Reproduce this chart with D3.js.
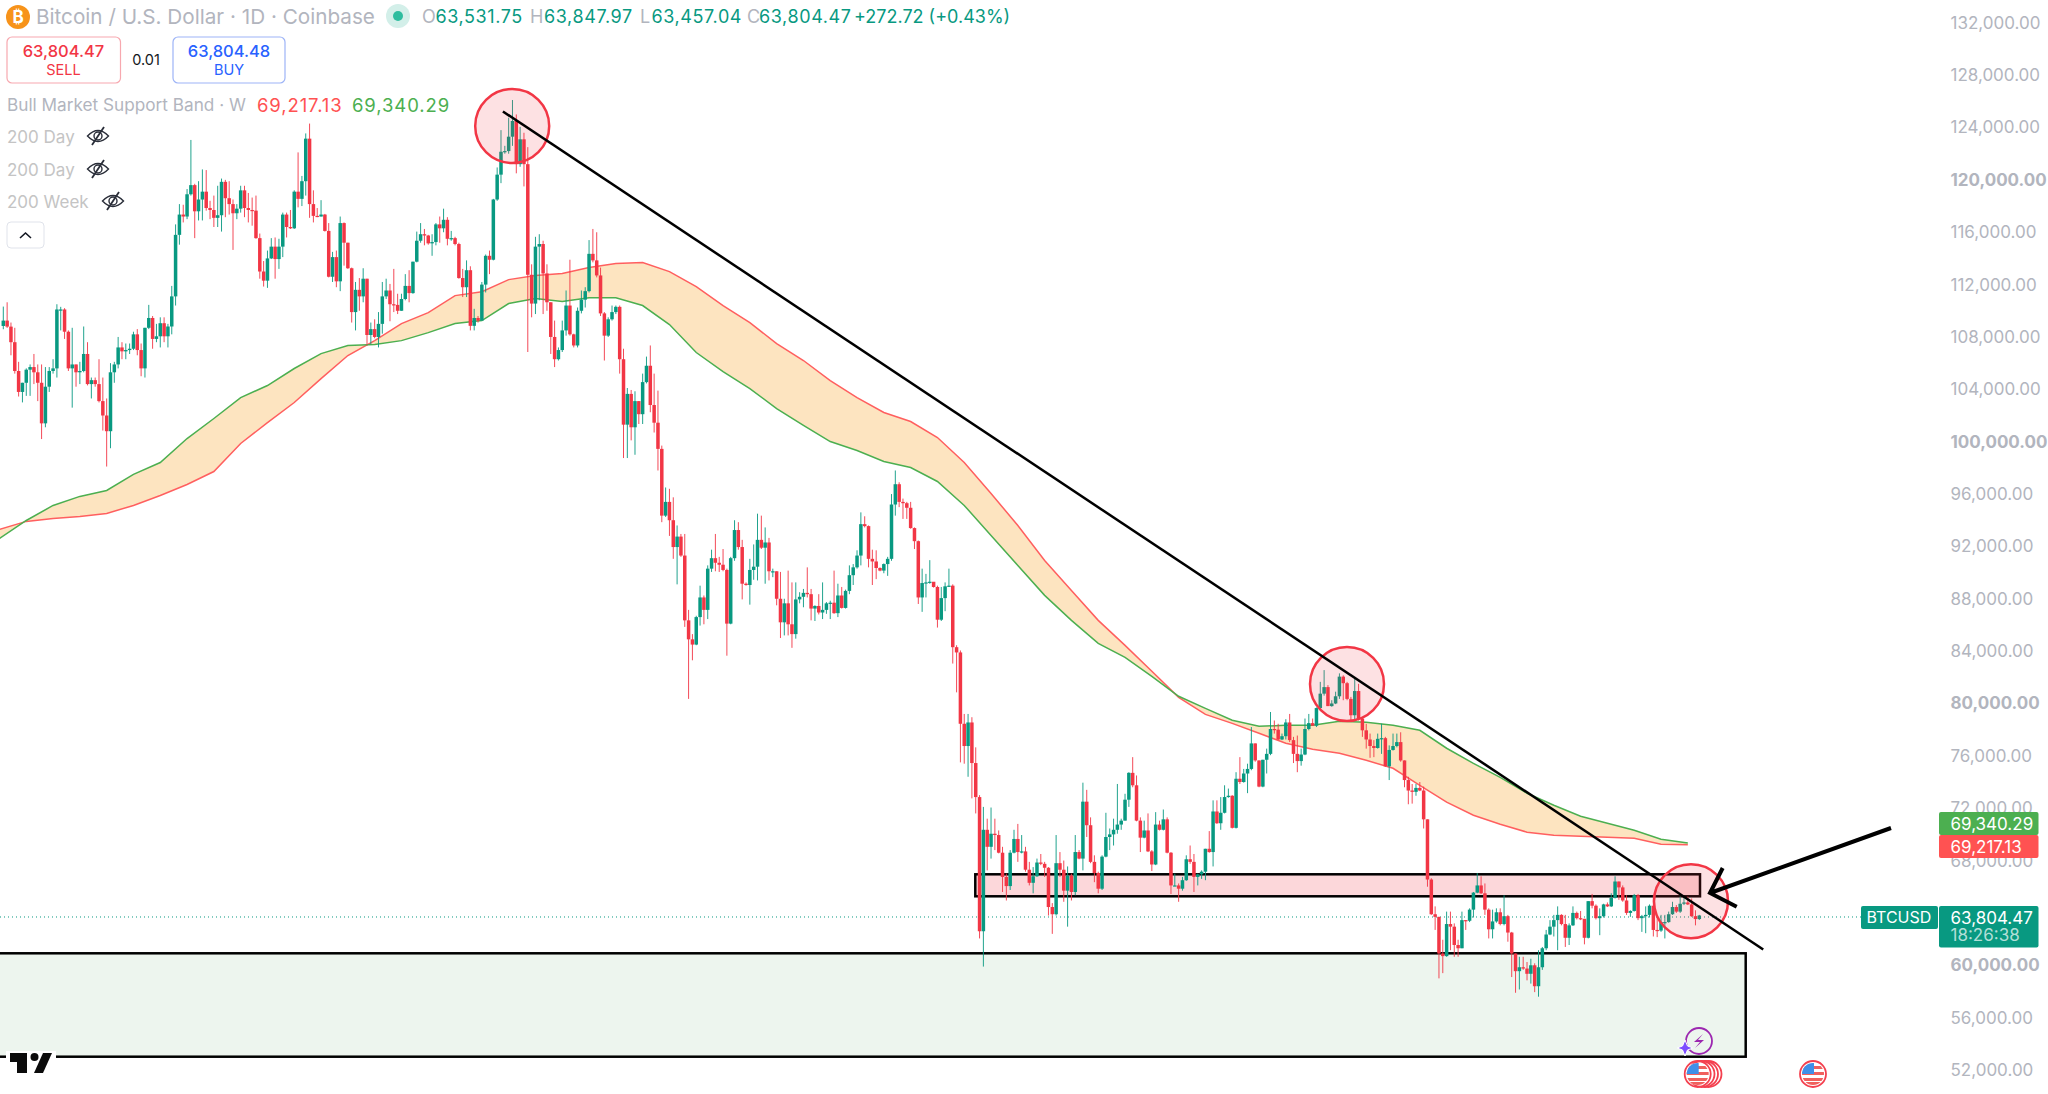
<!DOCTYPE html>
<html>
<head>
<meta charset="utf-8">
<script src="https://cdn.jsdelivr.net/npm/d3@7/dist/d3.min.js"></script>
<style>
html, body { margin: 0; padding: 0; background: #fff; }
svg { display: block; }
text { font-family: Inter, "Noto Sans", sans-serif; }
</style>
</head>
<body>
<svg id="chart" width="2048" height="1094"></svg>
<script>
// all prices in thousands of USD
const firstOpen = 108.84;

const closes = [
109.25,108.79,107.6,105.4,103.8,104.5,105.5,105.7,105.3,104.5,
101.4,104.2,105.4,105.6,110.1,110.1,108.4,105.6,105.9,105.3,
105.4,106.7,104.4,104.7,104.4,103.1,102,100.8,105.3,105.9,
107.2,106.9,107,107.1,108.2,107,105.6,108.7,109.45,107.85,
108.05,109.05,108.05,108.8,111.1,115.8,117.35,117.2,118.9,119.6,
117.6,118.5,119.1,117.85,117.7,117.1,117.3,119.85,118.6,118.15,
117.45,117.8,119.2,117.85,117.7,117.65,115.55,113,112.3,114,
114.9,113.95,114.9,117.35,116.4,116.3,119.1,118.55,119.9,123.15,
118.15,117.25,117.2,117.35,116.1,112.6,114.1,112.25,116.7,115.2,
113.25,109.9,111.6,111.1,112.45,108.15,108.6,108,109,111.1,
111.55,110.5,110.45,110,110.9,111.9,111.35,113.75,115.35,115.85,
115.75,115.15,115.25,116.6,116.3,116.95,115.5,115.55,115.1,112.5,
111.8,113.1,108.85,109.45,109.25,112,114.2,113.9,118.5,120.4,
122.15,122.2,123.3,124.5,121.2,123.1,121.2,112.75,110.55,114.9,
115.1,112.85,110.65,108,106.3,107,108.5,110.4,108.2,107.35,
110,110.85,111.5,114.35,113.85,112.7,109.8,108.1,109.35,109.9,
110.3,106.3,101.3,103.65,101.1,103.1,102.1,104.55,105.8,102.8,
101.45,99.45,94.35,95.4,94,91.95,92.75,91.3,86.35,84.9,
84.5,86.6,88.1,87.15,90.3,91.1,90.75,90.6,90.2,86.1,
91.1,93.25,91.95,89.15,89.05,90.2,90.45,92.5,91.9,92.3,
90.1,90.1,88,86.2,87.65,86.05,85.3,87.95,88.15,88.45,
88.35,87.25,87.45,86.95,87.15,87.65,87.7,86.9,88.25,87.3,
88.6,89.8,90.4,91.3,93.7,93.55,91.05,90.85,90.35,90.15,
90.65,91.05,95.2,96.75,95.4,95.3,94.95,93.4,92.4,88.1,
89.2,89.25,89.3,88.9,86.4,88.05,88.95,89,84.3,83.9,
78.45,76.75,78.55,75.45,72.85,62.6,70.35,69.05,70.05,69.95,
68.6,66.75,66.05,68.6,69.65,68.65,68.7,67.3,66.3,66.8,
67.85,67.75,67.45,64.45,63.9,67.8,67.3,65.7,66.85,65.6,
68.65,68.15,72.5,70.7,67.9,67.05,65.85,68.3,69.8,70,
70.35,70.75,71.05,72.65,74.7,73.75,71.05,69.75,70.3,68.7,
67.7,70.75,70.35,71.15,68.6,66.1,66.1,65.85,66.5,68.1,
67.9,66.75,66.95,67.15,68.9,68.65,71.75,70.85,71.65,72.85,
72.95,70.5,74.25,74,74.65,75,76.95,75.65,73.65,75.7,
76.15,78.05,78,77.25,77.5,78.55,77.2,76.15,75.6,76.1,
78.05,78.5,78.3,79.65,80.75,81.25,79.8,80,80.55,82.05,
81.55,80.35,79.1,80.95,78.85,77.95,77.25,76.75,76.6,77.3,
77.35,75.2,76.45,76.75,77.05,75.65,74.15,73.35,73.25,73.55,
73.35,71.15,66.55,63.9,63.7,60.9,60.7,63.15,62.95,61.55,
61.3,63.45,63.4,64.25,65.55,66.1,65.5,64.25,62.75,63.35,
64.05,63.15,63.75,62.5,60.9,59.55,59.85,59.75,59.35,60,
58.4,59.85,61.3,62.35,62.95,63.45,63.85,63.15,62.1,63.05,
64,63.6,63.55,62.1,64.9,64.55,63.6,63.75,64.65,64.5,
65.15,66.4,65.95,64.95,64,64.15,65.35,63.6,63.75,63.85,
64.55,62.7,62.65,63.3,63.3,63.9,64.45,64.1,64.7,64.8,
64.65,63.75,63.53,63.804
];

const highs = [
110.32,110.65,109.1,108.7,106.1,104.5,105.6,105.9,106.7,105.9,
105.9,105.7,105.7,106.3,110.5,110.3,110.2,108.5,108.7,105.9,
106.1,108.8,107.6,104.9,104.9,106.3,104.9,103.3,106,106.1,
108,107.6,107.5,107.5,108.4,108.6,107.5,108.7,110.45,109.6,
109,109.5,109.5,109,111.9,116.6,118.15,118.1,119.3,123.05,
119.7,119.9,120.8,120.75,118.4,118.8,119.55,120.1,120,119.9,
118.5,118.15,119.55,119.55,119,118.65,118.8,115.9,113.8,114.6,
115.55,115.6,115.5,117.5,117.5,117.7,119.2,122.1,120.3,123.55,
124.3,119.2,117.85,118.45,117.4,116.7,114.5,114.6,117.2,116.75,
115.2,113.3,112.2,112.5,113.25,112.45,109.1,109.35,109.9,112.2,
112.45,112.05,113.2,111.3,111.3,112.8,113.1,113.75,116.05,116.7,
116.25,115.8,115.85,116.7,117.2,117.8,117.15,116.1,115.65,115.2,
113.2,113.85,113.4,110.15,109.6,112.2,114.3,114.6,118.55,120.95,
123.8,122.6,124.75,126.1,125,124.05,123.6,122.5,113.55,115.65,
115.85,115.35,113.55,110.65,109.25,107.2,109.25,111.55,113.9,108.25,
110.25,111.55,111.8,115.4,116.25,116,113.3,109.9,109.5,110.4,
110.4,110.4,107.1,104.1,103.95,103.85,103.1,105.2,106.5,107.35,
105.2,103.9,99.7,96.5,96.4,95.75,93.6,92.95,92.95,87.15,
85.3,86.7,89,88.25,90.55,91.75,92.95,91.2,91.8,90.3,
91.2,94,93.85,92.5,89.25,91.05,92.15,94.5,94.35,93.45,
92.65,90.3,90.1,90.05,88,90.15,89.25,89.25,88.5,88.75,
90.4,88.75,87.5,88.35,89.25,87.75,87.85,90.15,89.15,88.9,
88.7,90.55,90.65,91.7,94.6,94.3,93.6,91.75,91.7,90.4,
90.7,91.2,96,97.8,96.9,95.65,95.4,95.4,93.45,92.45,
90.3,89.9,90.95,89.25,89,88.9,89.25,90.3,89.1,84.45,
84.05,79.2,79.2,78.95,76.65,73,72.1,71.2,72.05,71.2,
70.3,69.05,67,68.8,70.35,70.8,69.95,69.05,67.9,67.5,
68.15,68.5,67.9,67.5,64.75,69.95,68.65,68,67.55,67,
69.95,68.8,73.95,73.4,71.3,68.4,67.15,68.4,71.65,70.45,
71.2,73.85,71.2,73.1,74.75,75.9,74.5,71.3,71.05,71.6,
68.8,71.7,71.05,71.9,71.3,68.65,67,66.25,66.75,68.4,
69.15,68.5,67,67.25,68.9,70.25,72.6,72.6,72.85,73.75,
73.5,73,74.75,75.9,75,75.4,78.2,76.95,75.65,75.7,
76.55,79.35,78.7,78.45,77.7,78.8,79.2,77.45,77.55,76.55,
78.85,79.2,78.85,79.7,81.65,82.55,81.4,80.25,80.9,82.3,
82.15,81.65,80.5,81.9,81.5,78.9,78.45,77.7,77.2,77.7,
78.45,77.45,76.8,77.7,77.7,77.8,75.65,74.4,73.85,73.85,
74,73.65,71.15,66.65,64.5,63.7,61.95,64.1,64.1,63.2,
61.95,64.1,63.45,64.35,65.6,67.05,66.8,66.25,64.35,64.25,
64.35,64.35,65.35,63.85,62.55,60.9,60.65,60.65,60.25,60.5,
60.15,61.15,61.4,62.7,63.45,63.85,64.5,63.9,63.85,63.2,
64.5,64.1,64.15,63.55,64.9,65.45,64.65,64.35,64.7,64.8,
65.5,66.8,66.4,66.1,65.35,64.2,65.45,65.45,63.85,64.5,
64.65,65.35,63.85,63.85,63.85,64.1,64.85,64.6,65.25,65.25,
65.25,65.1,64.2,63.85
];

const lows = [
108.59,108.69,106.6,105.2,103.45,103,103.5,103.5,104.4,103.1,
100.2,101.1,103.8,105.2,104.9,108.5,107.85,105.4,102.6,104.2,
104.4,105.3,104.3,103.3,104.2,103,100.85,98.1,99.5,104.5,
105.6,106.3,106.3,106.7,107,106.6,105,104.9,108.6,107.1,
107.6,107.2,107.6,107.2,108.2,110.4,115.05,116.75,117,118.8,
115.55,116.9,116.9,117.65,117,116.4,116.4,116.05,117.15,117.35,
114.65,117,117.5,117.15,116.75,116.5,115.5,112.45,111.85,111.75,
113.95,112.45,113.2,114.1,115.6,116.25,116.25,117.9,118,118.8,
117.1,116.75,117.15,117.2,116.05,112.55,112.2,111.8,111.5,113.45,
113.2,109.1,108.5,110,110.65,107.35,107.45,107.9,107.2,108.25,
110.9,109.2,109.9,109.75,110,110.8,110.65,111.3,113.7,115.2,
115,115.05,114.2,115,115.2,116,115,115.35,115,112.45,
111.05,111.05,108.5,108.5,109.1,109.4,111.4,112.8,113.85,118.4,
119.75,122,122,122.6,120.5,121,119.5,106.85,109.5,109.75,
110.8,109.75,110,106.7,105.7,106.2,106.85,108.1,108.1,107.2,
107.2,109.8,110.25,111.4,113.7,112.55,109.6,106.2,108,109.25,
109.75,105.2,98.75,98.75,100.1,99,101.35,101.35,104.45,102.25,
100.7,97.8,93.85,94.25,92.8,91.05,89.1,91.2,85.85,80.35,
83.3,84.45,85.95,86.05,86.45,90.05,90.1,90.05,90.1,83.65,
86.05,90.9,91.75,87.95,89,87.55,89.45,89.4,91.8,89.15,
89.4,89.65,87.5,85,85.2,85.2,84.25,84.95,87.65,87.35,
88.1,86.35,86.3,86.8,86.45,86.85,86.45,86.85,86.6,87.25,
87.25,88.35,89.05,90.3,90.55,93.45,90.4,89.05,89.5,90.1,
89.95,89.75,90.9,94.35,95,94.1,94.1,93.35,91.8,87.6,
87,88.1,89.15,88.85,85.8,86.3,87.05,88.9,83.05,80.85,
75.5,75.4,74.4,72.75,71.6,62.05,59.9,67.25,68.15,68.8,
68.55,65.6,64.95,65.75,68.55,67.9,68.55,67.15,66.1,65.5,
66.75,67.65,66.75,63.8,62.4,63.8,66.75,64.85,62.95,64.95,
65.35,68.1,67.25,69.8,67.8,66.35,65.5,65.75,68.25,68.8,
69.15,70.05,70.35,71.05,72.1,73.6,71,68.65,69.7,68.65,
67.2,67.65,70.3,70.3,68.55,65.45,66.05,64.85,65.7,66.45,
67.75,65.6,66.1,66.6,66.5,68.6,67.55,70.8,70.35,71.6,
72.8,70.45,70.45,73.85,73.95,73.15,74.9,75.55,73.6,73.6,
74.65,76.05,77.7,77.2,77.2,77.25,77.05,75.45,74.75,75.25,
76.05,77.95,78.3,78.2,79.6,80.6,79.8,79.75,79.95,80.35,
80.25,80.25,78.7,78.7,78.7,77.45,76.55,75.85,75.9,76.55,
76.15,75.15,74.15,76.4,76.65,75.55,73.6,72.3,72.35,72.95,
73.3,70.45,66,63.85,62.7,59,59.4,60.65,61.15,60.65,
60.65,61.3,62.7,63.3,63.65,65.5,65.45,63.85,62.05,62.05,
63.25,63.05,63.05,61.8,59.1,57.9,58.15,59.65,58.85,58.6,
57.95,57.6,59.65,61.15,62.3,62.2,61.15,63.05,61.4,61.55,
63,63.5,63.45,61.6,62.05,64.35,63.5,62.3,63.65,64.45,
64.45,65.1,65,64.85,63.85,63.7,64.1,63.45,62.55,62.45,
63.65,62.2,62.15,62.55,62.05,63.25,63.85,64,64,64.6,
64.6,63.7,63.05,63.46
];

// bull market support band, one point per week (first point is one bar left of the view)
const bandRed = [
93.3,93.91,94.14,94.29,94.52,95.13,95.89,96.73,97.72,99.86,
101.46,102.99,104.82,106.58,107.72,109.02,109.86,111.16,111.46,112.38,
112.69,112.84,113.3,113.61,113.68,112.99,111.85,110.4,109.1,107.49,
106.2,104.67,103.37,102.23,101.54,100.32,98.41,96.04,93.6,90.93,
88.64,86.35,84.44,82.46,80.47,79.17,78.48,77.72,76.96,76.5,
76.2,75.66,75.05,73.75,72.46,71.46,70.78,70.17,69.94,69.86,
69.78,69.71,69.25,69.21713
];
const bandGreen = [
92.61,93.98,95.13,95.82,96.27,97.5,98.41,100.24,101.77,103.37,
104.29,105.59,106.73,107.34,107.42,107.72,108.33,109.02,109.25,110.55,
110.93,110.7,111,111,110.4,108.95,106.81,105.36,104.06,102.53,
101.24,100.01,99.33,98.49,98.03,96.96,95.13,92.84,90.55,88.26,
86.35,84.59,83.52,82.07,80.55,79.63,78.72,78.26,78.33,78.33,
78.64,78.56,78.33,77.95,76.58,75.43,74.36,73.14,72.23,71.39,
70.85,70.32,69.63,69.34029
];
const bandStart = -1;
const bandStep = 7;

// 64,000 sits fully behind the last price box in the picture
const priceTicks = [52,56,60,68,72,76,80,84,88,92,96,100,104,108,112,116,120,124,128,132];
const boldTicks = [60,80,100,120];

const trendBars = [130.5, 459.7];
const trendPrices = [125.23, 61.21];

const RED = '#f23645';
const GREEN = '#089981';
const GREY = '#b2b5be';

const svg = d3.select('#chart');
const n = closes.length;
const x = d3.scaleLinear().domain([0, n - 1]).range([3.3, 1699.3]);
const y = d3.scaleLinear().domain([52, 132]).range([1070, 22.8]);
const opens = closes.map((c, i) => i === 0 ? firstOpen : closes[i - 1]);
const money = d3.format(',.2f');

const chart = svg.append('g');

// zones sit under the candles
chart.append('rect')
    .attr('x', -4).attr('y', 953.3).attr('width', 1749.7).attr('height', 103.4)
    .attr('fill', '#edf5ee').attr('stroke', '#000').attr('stroke-width', 2.5);
chart.append('rect')
    .attr('x', 975.3).attr('y', 874.3).attr('width', 724.7).attr('height', 22)
    .attr('fill', 'rgba(242,54,69,0.2)').attr('stroke', '#000').attr('stroke-width', 2.5);

// band
const bandX = i => x(bandStart + i * bandStep);
const area = d3.area()
    .x((d, i) => bandX(i))
    .y0((d, i) => y(bandRed[i]))
    .y1((d, i) => y(bandGreen[i]));
const bandLine = d3.line().x((d, i) => bandX(i)).y(d => y(d));

chart.append('path').datum(bandRed).attr('d', area).attr('fill', '#fde4c0');
chart.append('path').datum(bandRed).attr('d', bandLine)
    .attr('fill', 'none').attr('stroke', '#ff5f5f').attr('stroke-width', 1.5);
chart.append('path').datum(bandGreen).attr('d', bandLine)
    .attr('fill', 'none').attr('stroke', '#4caf50').attr('stroke-width', 1.5);

// last price line
chart.append('line')
    .attr('x1', 0).attr('x2', 1861)
    .attr('y1', y(closes[n - 1]) + 1.5).attr('y2', y(closes[n - 1]) + 1.5)
    .attr('stroke', GREEN).attr('stroke-width', 1).attr('stroke-dasharray', '1 3');

// candles
const candles = chart.selectAll('.candle').data(closes).join('g').attr('class', 'candle');
const colour = i => closes[i] >= opens[i] ? GREEN : RED;
candles.append('line')
    .attr('x1', (d, i) => x(i)).attr('x2', (d, i) => x(i))
    .attr('y1', (d, i) => y(highs[i])).attr('y2', (d, i) => y(lows[i]))
    .attr('stroke', (d, i) => colour(i)).attr('stroke-width', 0.9);
candles.append('rect')
    .attr('x', (d, i) => x(i) - 1.75).attr('width', 3.5)
    .attr('y', (d, i) => y(Math.max(opens[i], closes[i])))
    .attr('height', (d, i) => Math.max(1.2, Math.abs(y(opens[i]) - y(closes[i]))))
    .attr('fill', (d, i) => colour(i));

// circles around the three touches
[[512.2, 126], [1347, 684], [1691, 901.3]].forEach(c => {
    chart.append('circle')
        .attr('cx', c[0]).attr('cy', c[1]).attr('r', 37)
        .attr('fill', 'rgba(242,54,69,0.15)').attr('stroke', RED).attr('stroke-width', 2.5);
});

// trend line
chart.append('line')
    .attr('x1', x(trendBars[0])).attr('y1', y(trendPrices[0]))
    .attr('x2', x(trendBars[1])).attr('y2', y(trendPrices[1]))
    .attr('stroke', '#000').attr('stroke-width', 2.5);

// arrow
chart.append('path')
    .attr('d', 'M1891,828 L1710,893 M1722.7,868 L1710,893 L1736.7,906.7')
    .attr('fill', 'none').attr('stroke', '#000').attr('stroke-width', 4)
    .attr('stroke-linejoin', 'miter');

// price axis
const axis = svg.append('g')
    .attr('transform', 'translate(1950.5,0)')
    .call(d3.axisRight(y)
        .tickValues(priceTicks)
        .tickSize(0)
        .tickPadding(0)
        .tickFormat(d => money(d * 1000)));
axis.select('.domain').remove();
axis.selectAll('text')
    .attr('fill', GREY)
    .attr('font-size', 17)
    .attr('font-family', 'Inter, sans-serif')
    .attr('font-weight', d => boldTicks.includes(d) ? 700 : 400);

function priceBox(bx, by, w, h, fill) {
    svg.append('rect').attr('x', bx).attr('y', by).attr('width', w).attr('height', h)
        .attr('rx', 2).attr('fill', fill);
}
function label(tx, ty, str, size, fill, opts) {
    const t = svg.append('text').attr('x', tx).attr('y', ty).attr('dy', '0.36em')
        .attr('font-size', size).attr('fill', fill).text(str);
    if (opts && opts.anchor) t.attr('text-anchor', opts.anchor);
    if (opts && opts.weight) t.attr('font-weight', opts.weight);
    if (opts && opts.spacing) t.attr('letter-spacing', opts.spacing);
    return t;
}

priceBox(1939, 812, 99.5, 23, '#4caf50');
priceBox(1939, 835, 99.5, 23, '#ff5252');
label(1950.5, 823.5, money(bandGreen[bandGreen.length - 1] * 1000), 17, '#fff');
label(1950.5, 846.5, money(bandRed[bandRed.length - 1] * 1000), 17, '#fff');
priceBox(1861, 906, 77, 23, GREEN);
priceBox(1939, 906, 99.5, 41.5, GREEN);
label(1866.5, 917.5, 'BTCUSD', 16, '#fff');
label(1950.5, 917.5, '63,804.47', 17, '#fff');
label(1950.5, 935, '18:26:38', 17, 'rgba(255,255,255,0.7)');

// header
svg.append('circle').attr('cx', 18).attr('cy', 17).attr('r', 12).attr('fill', '#f7931a');
label(18, 17, '₿', 17, '#fff', { anchor: 'middle', weight: 700 });
label(36, 17, 'Bitcoin / U.S. Dollar · 1D · Coinbase', 20.7, GREY);
svg.append('circle').attr('cx', 398).attr('cy', 16).attr('r', 12).attr('fill', '#d3efe9');
svg.append('circle').attr('cx', 398).attr('cy', 16).attr('r', 5).attr('fill', '#2ebd9f');

const ohlc = [['O', '63,531.75', 422, 13.4], ['H', '63,847.97', 530, 14], ['L', '63,457.04', 640, 11.4], ['C', '63,804.47', 747, 12]];
ohlc.forEach(d => {
    label(d[2], 17, d[0], 18, GREY);
    label(d[2] + d[3], 17, d[1], 18, GREEN, { spacing: 0.6 });
});
label(854, 17, '+272.72 (+0.43%)', 18, GREEN);

// sell / buy
svg.append('rect').attr('x', 7).attr('y', 37).attr('width', 113.5).attr('height', 46).attr('rx', 5)
    .attr('fill', '#fff').attr('stroke', '#f7a8af').attr('stroke-width', 1.2);
label(63.5, 51, '63,804.47', 16.5, RED, { anchor: 'middle', weight: 500 });
label(63.5, 70, 'SELL', 14.5, RED, { anchor: 'middle' });
label(146, 60, '0.01', 14.5, '#131722', { anchor: 'middle' });
svg.append('rect').attr('x', 173).attr('y', 37).attr('width', 112).attr('height', 46).attr('rx', 5)
    .attr('fill', '#fff').attr('stroke', '#9db4f7').attr('stroke-width', 1.2);
label(229, 51, '63,804.48', 16.5, '#2962ff', { anchor: 'middle', weight: 500 });
label(229, 70, 'BUY', 14.5, '#2962ff', { anchor: 'middle' });

// indicator legend
label(7, 105, 'Bull Market Support Band · W', 17.2, GREY);
label(257, 105, '69,217.13', 18.5, '#ff5252', { spacing: 0.9 });
label(352, 105, '69,340.29', 18.5, '#4caf50', { spacing: 0.9 });

function eyeOff(cx, cy) {
    const g = svg.append('g').attr('transform', `translate(${cx},${cy})`)
        .attr('fill', 'none').attr('stroke', '#2a2e39').attr('stroke-width', 1.4);
    g.append('path').attr('d', 'M-10.5,0 Q0,-11 10.5,0 Q0,11 -10.5,0 Z');
    g.append('circle').attr('r', 4);
    g.append('line').attr('x1', -6).attr('y1', 9).attr('x2', 6).attr('y2', -9).attr('stroke-width', 1.8);
}
[['200 Day', 137, 98], ['200 Day', 170, 98], ['200 Week', 202, 113]].forEach(d => {
    label(7, d[1], d[0], 17, '#c4c4c4');
    eyeOff(d[2], d[1] - 1);
});

svg.append('rect').attr('x', 7).attr('y', 222).attr('width', 37).attr('height', 26).attr('rx', 4)
    .attr('fill', '#fff').attr('stroke', '#e0e3eb');
svg.append('path').attr('d', 'M20,238 L25.5,233 L31,238')
    .attr('fill', 'none').attr('stroke', '#131722').attr('stroke-width', 1.6);

// tradingview logo
const logo = svg.append('g');
logo.append('rect').attr('x', 6).attr('y', 1051).attr('width', 50).attr('height', 24).attr('fill', '#fff');
logo.append('path').attr('d', 'M10,1053 H27 V1073 H17 V1062 H10 Z').attr('fill', '#0b0b0b');
logo.append('circle').attr('cx', 34.5).attr('cy', 1057).attr('r', 4).attr('fill', '#0b0b0b');
logo.append('path').attr('d', 'M43,1053 H52 L43,1073 H34 Z').attr('fill', '#0b0b0b');

// events at the bottom
const bolt = svg.append('g');
bolt.append('circle').attr('cx', 1699).attr('cy', 1041).attr('r', 13)
    .attr('fill', 'none').attr('stroke', '#9c27b0').attr('stroke-width', 1.8);
bolt.append('path').attr('d', 'M1703,1034 L1694,1042 H1700 L1695,1048 L1704,1040 H1698 Z')
    .attr('fill', '#9c27b0');
bolt.append('path').attr('d', 'M1685,1040 L1687.5,1046 L1693,1048 L1687.5,1050 L1685,1056 L1682.5,1050 L1677,1048 L1682.5,1046 Z')
    .attr('fill', '#7c4dff').attr('stroke', '#fff').attr('stroke-width', 1);

function flag(cx, cy) {
    const id = 'f' + Math.round(cx);
    svg.append('clipPath').attr('id', id).append('circle').attr('cx', cx).attr('cy', cy).attr('r', 11);
    const g = svg.append('g').attr('clip-path', `url(#${id})`);
    g.append('rect').attr('x', cx - 12).attr('y', cy - 12).attr('width', 24).attr('height', 24).attr('fill', '#fff');
    [-8, -2, 4].forEach(o => g.append('rect').attr('x', cx - 12).attr('y', cy + o).attr('width', 24).attr('height', 3).attr('fill', '#f0605d'));
    g.append('rect').attr('x', cx - 12).attr('y', cy + 8).attr('width', 24).attr('height', 4).attr('fill', '#f0605d');
    g.append('rect').attr('x', cx - 12).attr('y', cy - 12).attr('width', 13).attr('height', 12).attr('fill', '#3f8fe8');
    svg.append('circle').attr('cx', cx).attr('cy', cy).attr('r', 13)
        .attr('fill', 'none').attr('stroke', '#f4404f').attr('stroke-width', 1.8);
}
[1708.5, 1705, 1701.5].forEach(cx => {
    svg.append('circle').attr('cx', cx).attr('cy', 1074).attr('r', 13)
        .attr('fill', '#fff').attr('stroke', '#f4404f').attr('stroke-width', 1.8);
});
flag(1697.7, 1074);
flag(1813, 1074);
</script>
</body>
</html>
